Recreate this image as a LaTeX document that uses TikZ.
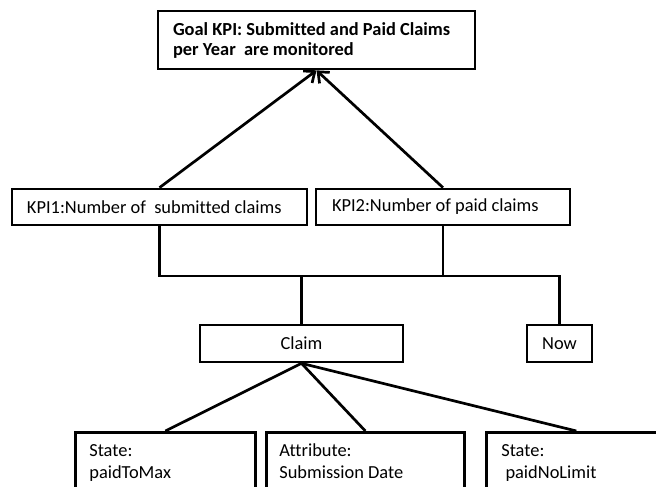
\documentclass[tikz,border=0pt]{standalone}
\usepackage{fontspec}
\setmainfont{Carlito}[Ligatures={NoCommon}]
\usetikzlibrary{arrows.meta}
\begin{document}
\begin{tikzpicture}[x=1bp,y=-1bp,line width=2.7bp,line join=miter,
  box/.style={draw,rectangle,inner sep=0pt,font=\fontsize{18.4bp}{22bp}\selectfont},
  arr/.style={-{Straight Barb[length=9bp,width=15bp]}}]
\useasboundingbox (0,0) rectangle (656,487);
\clip (0,0) rectangle (656,487);
\node[box,minimum width=317bp,minimum height=58bp,inner xsep=15bp,text width=287bp,align=flush left,
  font=\fontsize{18.4bp}{20bp}\selectfont\bfseries] (goal) at (316.5,40)
  {Goal KPI: Submitted and Paid Claims\\per Year~ are monitored};
\node[box,minimum width=295bp,minimum height=36bp,inner xsep=15bp,text width=265bp,align=flush left] (kpi1) at (159.5,207) {KPI1:Number of~ submitted claims};
\node[box,minimum width=254bp,minimum height=36bp,inner xsep=16bp,text width=222bp,align=flush left] (kpi2) at (443,207) {KPI2:Number of paid claims};
\node[box,minimum width=203bp,minimum height=37bp] (claim) at (301.5,343.5) {Claim};
\node[box,minimum width=65bp,minimum height=37bp] (now) at (559.5,343.5) {Now};
\node[box,anchor=north west,minimum width=180bp,inner xsep=14bp,inner ysep=11bp,text width=152bp,align=flush left] (s1) at (74,431)
  {\rule{0pt}{13bp}State:\\paidToMax\rule[-60bp]{0pt}{60bp}};
\node[box,anchor=north west,minimum width=198bp,inner xsep=13bp,inner ysep=11bp,text width=172bp,align=flush left] (s2) at (265,431)
  {\rule{0pt}{13bp}Attribute:\\Submission Date\rule[-60bp]{0pt}{60bp}};
\node[box,anchor=north west,minimum width=180bp,inner xsep=15bp,inner ysep=11bp,text width=150bp,align=flush left] (s3) at (485,431)
  {\rule{0pt}{13bp}State:\\\ paidNoLimit\rule[-60bp]{0pt}{60bp}};
\draw[arr] (kpi1.north) -- (goal.south);
\draw[arr] (kpi2.north) -- (goal.south);
\coordinate (j) at (claim.north |- 0,276);
\draw (kpi1.south) |- (j) -| (now.north);
\draw (kpi2.south) -- (kpi2.south |- j);
\draw (j) -- (claim.north);
\draw (claim.south) -- (s1.north);
\draw (claim.south) -- (s2.north);
\draw (claim.south) -- (s3.north);
\end{tikzpicture}
\end{document}
